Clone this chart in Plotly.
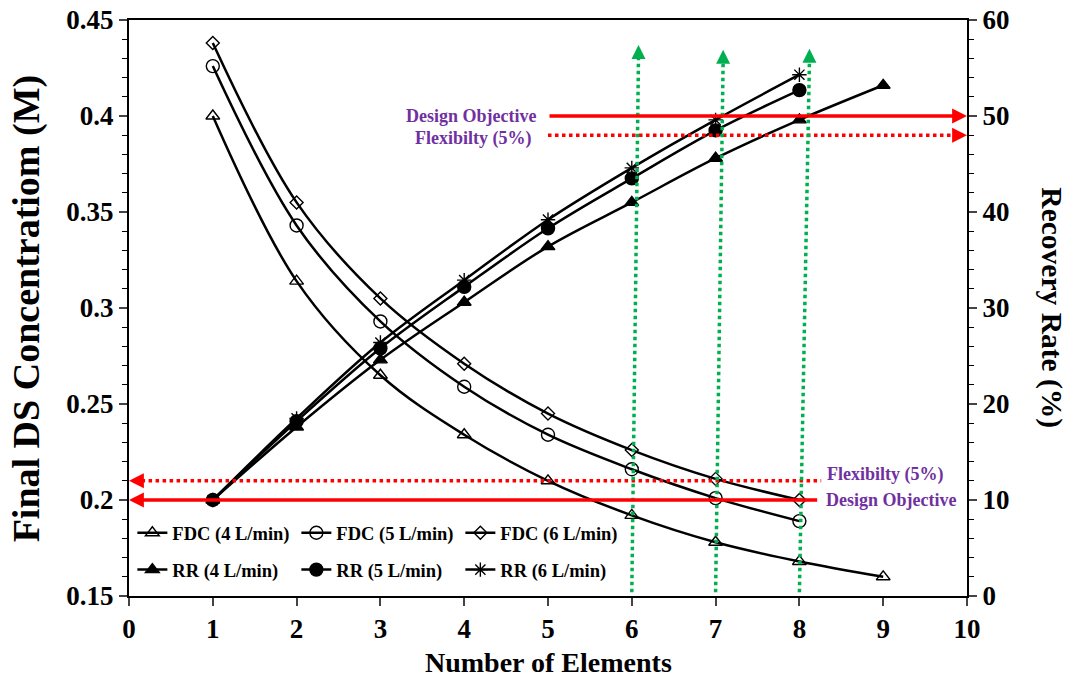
import plotly.graph_objects as go

# ---- data -------------------------------------------------------------
elements_9 = [1, 2, 3, 4, 5, 6, 7, 8, 9]
elements_8 = [1, 2, 3, 4, 5, 6, 7, 8]

# Final draw-solution concentration (M)
fdc_4 = [0.400, 0.314, 0.265, 0.234, 0.210, 0.192, 0.178, 0.168, 0.160]
fdc_5 = [0.426, 0.343, 0.293, 0.259, 0.234, 0.216, 0.201, 0.189]
fdc_6 = [0.438, 0.355, 0.305, 0.271, 0.245, 0.226, 0.211, 0.200]

# Recovery rate (%)
rr_4 = [10.0, 17.6, 24.6, 30.6, 36.4, 41.0, 45.6, 49.6, 53.2]
rr_5 = [10.0, 18.2, 25.8, 32.2, 38.3, 43.5, 48.5, 52.7]
rr_6 = [10.0, 18.5, 26.4, 32.9, 39.2, 44.6, 49.6, 54.3]

x_ticks = [0, 1, 2, 3, 4, 5, 6, 7, 8, 9, 10]
fdc_ticks = [0.15, 0.2, 0.25, 0.3, 0.35, 0.4, 0.45]
fdc_tick_text = ["0.15", "0.2", "0.25", "0.3", "0.35", "0.4", "0.45"]
rr_ticks = [0, 10, 20, 30, 40, 50, 60]

# design targets
fdc_objective = 0.20
fdc_flex = 0.21
rr_objective = 50
rr_flex = 48
selected_elements = [6, 7, 8]

FONT = "Liberation Serif"
RED = "#FF0000"
GREEN = "#00B050"
PURPLE = "#7030A0"


def bold(values):
    return [f"<b>{v}</b>" for v in values]


fig = go.Figure()


def add_series(x, y, name, symbol, size, axis, legend):
    fig.add_trace(go.Scatter(
        x=x, y=y, name=f"<b>{name}</b>", mode="lines+markers", yaxis=axis, legend=legend,
        line=dict(color="black", width=2.5, shape="spline", smoothing=1),
        marker=dict(symbol=symbol, size=size, color="black",
                    line=dict(color="black", width=1.4)),
    ))


add_series(elements_9, fdc_4, "FDC (4 L/min)", "triangle-up-open", 12, "y", "legend")
add_series(elements_8, fdc_5, "FDC (5 L/min)", "circle-open", 13, "y", "legend")
add_series(elements_8, fdc_6, "FDC (6 L/min)", "diamond-open", 10, "y", "legend")
add_series(elements_9, rr_4, "RR (4 L/min)", "triangle-up", 12, "y2", "legend2")
add_series(elements_8, rr_5, "RR (5 L/min)", "circle", 13, "y2", "legend2")
add_series(elements_8, rr_6, "RR (6 L/min)", "asterisk-open", 12, "y2", "legend2")

shapes = []
annotations = []

# design objective / flexibility on the concentration side (arrows to the left axis)
annotations.append(dict(x=0, y=fdc_objective, xref="x", yref="y", ax=8.23, ay=fdc_objective,
                        axref="x", ayref="y", showarrow=True, arrowhead=2, arrowsize=0.85,
                        arrowwidth=3.5, arrowcolor=RED, text=""))
shapes.append(dict(type="line", xref="x", yref="y", x0=0.15, x1=8.26, y0=fdc_flex, y1=fdc_flex,
                   line=dict(color=RED, width=3.5, dash="dot")))
annotations.append(dict(x=0, y=fdc_flex, xref="x", yref="y", ax=14, ay=0, showarrow=True,
                        arrowhead=2, arrowsize=0.85, arrowwidth=3.5, arrowcolor=RED, text=""))

# design objective / flexibility on the recovery side (arrows to the right axis)
annotations.append(dict(x=10, y=rr_objective, xref="x", yref="y2", ax=5.0, ay=rr_objective,
                        axref="x", ayref="y2", showarrow=True, arrowhead=2, arrowsize=0.85,
                        arrowwidth=3.5, arrowcolor=RED, text=""))
shapes.append(dict(type="line", xref="x", yref="y2", x0=5.0, x1=9.85, y0=rr_flex, y1=rr_flex,
                   line=dict(color=RED, width=3.5, dash="dot")))
annotations.append(dict(x=10, y=rr_flex, xref="x", yref="y2", ax=-14, ay=0, showarrow=True,
                        arrowhead=2, arrowsize=0.85, arrowwidth=3.5, arrowcolor=RED, text=""))

# vertical markers at the selected number of elements
tops = [57.4, 56.9, 57.0]
leans = [0.08, 0.09, 0.12]
for n, top, lean in zip(selected_elements, tops, leans):
    shapes.append(dict(type="line", xref="x", yref="y2", x0=n, x1=n + lean, y0=0.4, y1=top - 1.2,
                       line=dict(color=GREEN, width=3.5, dash="dot")))
    annotations.append(dict(x=n + lean, y=top, xref="x", yref="y2", ax=0, ay=14, showarrow=True,
                            arrowhead=2, arrowsize=0.8, arrowwidth=3.5, arrowcolor=GREEN, text=""))

label_font = dict(family=FONT, size=18, color=PURPLE)
annotations += [
    dict(x=4.08, y=rr_objective, xref="x", yref="y2", text="<b>Design Objective</b>",
         showarrow=False, font=label_font, xanchor="center", yanchor="middle"),
    dict(x=4.1, y=47.7, xref="x", yref="y2", text="<b>Flexibilty (5%)</b>",
         showarrow=False, font=label_font, xanchor="center", yanchor="middle"),
    dict(x=8.3, y=0.2135, xref="x", yref="y", text="<b>Flexibilty (5%)</b>",
         showarrow=False, font=label_font, xanchor="left", yanchor="middle"),
    dict(x=8.29, y=fdc_objective, xref="x", yref="y", text="<b>Design Objective</b>",
         showarrow=False, font=label_font, xanchor="left", yanchor="middle"),
]

# axis titles
annotations += [
    dict(x=0.5, y=-0.116, xref="paper", yref="paper", text="<b>Number of Elements</b>",
         showarrow=False, font=dict(family=FONT, size=28, color="black"),
         xanchor="center", yanchor="middle"),
    dict(x=-0.1225, y=0.5, xref="paper", yref="paper", text="<b>Final DS Concentratiom (M)</b>",
         showarrow=False, textangle=-90, font=dict(family=FONT, size=38, color="black"),
         xanchor="center", yanchor="middle"),
    dict(x=1.101, y=0.5, xref="paper", yref="paper", text="<b>Recovery Rate (%)</b>",
         showarrow=False, textangle=90, font=dict(family=FONT, size=29.5, color="black"),
         xanchor="center", yanchor="middle"),
]

tick_font = dict(family=FONT, size=27, color="black")
legend_style = dict(orientation="h", x=0.004, xanchor="left", yanchor="middle",
                    bgcolor="rgba(0,0,0,0)", entrywidth=119, entrywidthmode="pixels",
                    itemwidth=30, font=dict(family=FONT, size=18.5, color="black"),
                    tracegroupgap=0)

fig.update_layout(
    width=1074, height=680,
    margin=dict(l=129, r=107, t=20, b=84, autoexpand=False),
    paper_bgcolor="white", plot_bgcolor="white",
    font=dict(family=FONT, color="black"),
    shapes=shapes, annotations=annotations,
    legend=dict(**legend_style, y=0.109),
    legend2=dict(**legend_style, y=0.045),
    xaxis=dict(range=[0, 10], tickvals=x_ticks, ticktext=bold(x_ticks), automargin=False,
               ticks="outside", ticklen=8, tickwidth=1.5,
               showline=True, linewidth=2, linecolor="black", mirror=True,
               showgrid=False, zeroline=False, tickfont=tick_font),
    xaxis2=dict(range=[0, 10], tickvals=x_ticks, overlaying="x", side="bottom", anchor="y",
                ticks="inside", ticklen=8, tickwidth=1.5, showticklabels=False, automargin=False,
                showline=False, showgrid=False, zeroline=False),
    yaxis=dict(range=[0.15, 0.45], tickvals=fdc_ticks, ticktext=bold(fdc_tick_text), automargin=False,
               ticks="outside", ticklen=8, tickwidth=1.5,
               minor=dict(dtick=0.01, ticks="outside", ticklen=5, tickwidth=1.2, tickcolor="black"),
               showline=True, linewidth=2, linecolor="black",
               showgrid=False, zeroline=False, tickfont=tick_font),
    yaxis2=dict(range=[0, 60], tickvals=rr_ticks, ticktext=bold(rr_ticks), automargin=False,
                overlaying="y", side="right", anchor="x",
                ticks="outside", ticklen=8, tickwidth=1.5,
                minor=dict(dtick=2, ticks="outside", ticklen=5, tickwidth=1.2, tickcolor="black"),
                showline=True, linewidth=2, linecolor="black",
                showgrid=False, zeroline=False, tickfont=tick_font),
    yaxis3=dict(range=[0, 60], tickvals=rr_ticks, overlaying="y", side="right", anchor="x",
                ticks="inside", ticklen=8, tickwidth=1.5, showticklabels=False, automargin=False,
                showline=False, showgrid=False, zeroline=False),
)

fig.write_html("out.html")
